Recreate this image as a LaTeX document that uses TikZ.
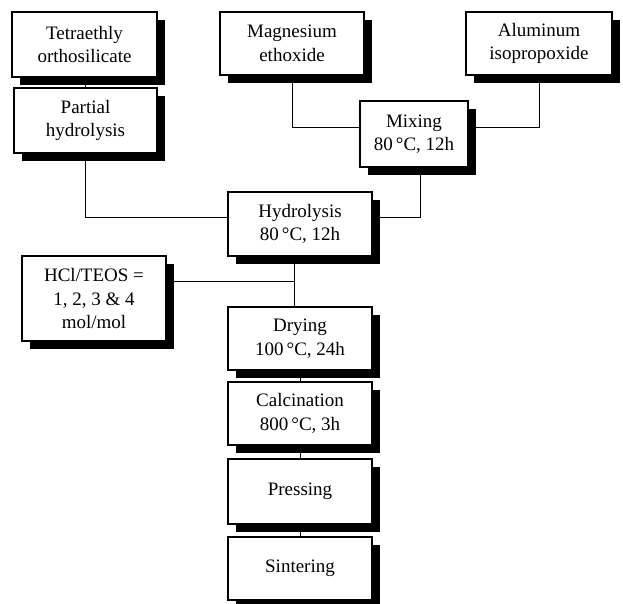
\documentclass[tikz,border=0pt]{standalone}
\usepackage{fontspec}
\setmainfont{Liberation Serif}
\usetikzlibrary{shadows}
\begin{document}
\begin{tikzpicture}[x=1pt,y=-1pt,
  box/.style={draw, line width=1.1pt, fill=white, align=center, inner sep=0pt,
    font=\fontsize{19}{23.5}\selectfont,
    drop shadow={shadow xshift=8pt, shadow yshift=-7.5pt, fill=black, opacity=1}},
  link/.style={line width=0.8pt}]
\useasboundingbox (0,0) rectangle (623,603);
\clip (0,0) rectangle (623,603);
\node[box, minimum width=145pt, minimum height=65pt] (teos) at (84.5,44.5) {Tetraethly\\orthosilicate};
\node[box, minimum width=143pt, minimum height=65pt] (partial) at (85.5,120.5) {Partial\\hydrolysis};
\node[box, minimum width=144pt, minimum height=63pt] (mag) at (292,43.5) {Magnesium\\ethoxide};
\node[box, minimum width=146pt, minimum height=63pt] (alu) at (539,43.5) {Aluminum\\isopropoxide};
\node[box, minimum width=108pt, minimum height=66pt] (mix) at (414,134) {Mixing\\80\,°C, 12h};
\node[box, minimum width=144pt, minimum height=64pt] (hyd) at (300,224) {Hydrolysis\\80\,°C, 12h};
\node[box, minimum width=144pt, minimum height=85pt] (hcl) at (94,298.5) {HCl/TEOS =\\1, 2, 3 \& 4\\mol/mol};
\node[box, minimum width=144pt, minimum height=63pt] (dry) at (300,338.5) {Drying\\100\,°C, 24h};
\node[box, minimum width=144pt, minimum height=63pt] (calc) at (300,413.5) {Calcination\\800\,°C, 3h};
\node[box, minimum width=144pt, minimum height=65pt] (press) at (300,491.5) {Pressing};
\node[box, minimum width=144pt, minimum height=63pt] (sint) at (300,568.5) {Sintering};
\coordinate (j) at ([xshift=-6pt]hyd.south);
\draw[link] (teos.south) -- (partial.north);
\draw[link] (mag.south) |- ([yshift=7pt]mix.west);
\draw[link] (alu.south) |- ([yshift=7pt]mix.east);
\draw[link] ([xshift=6pt]mix.south) |- ([yshift=6.5pt]hyd.east);
\draw[link] (partial.south) |- ([yshift=6.5pt]hyd.west);
\draw[link] (j) -- (j |- dry.north);
\draw[link] ([yshift=17.5pt]hcl.east) -- ([yshift=17.5pt]hcl.east -| j);
\draw[link] (dry.south) -- (calc.north);
\draw[link] (calc.south) -- (press.north);
\draw[link] (press.south) -- (sint.north);
\end{tikzpicture}
\end{document}
